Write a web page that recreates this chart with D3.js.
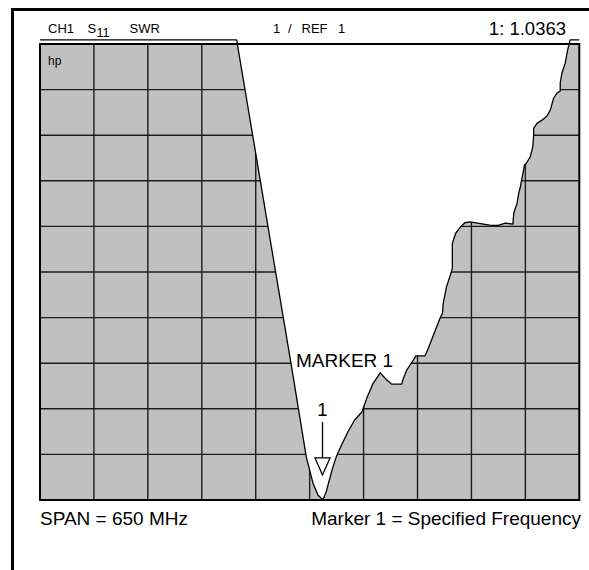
<!DOCTYPE html>
<html>
<head>
<meta charset="utf-8">
<script src="https://cdn.jsdelivr.net/npm/d3@7"></script>
<style>
  body { margin: 0; background: #fff; }
  svg text { font-family: "Liberation Sans", Arial, Helvetica, sans-serif; fill: #000; }
</style>
</head>
<body>
<div id="chart"></div>
<script>
// trace: frequency offset (MHz across the span) vs SWR (divisions)
const freqMHz = [0, 237, 303, 321, 329, 335, 341, 345, 348, 351, 353, 357, 359, 364, 371, 379, 388,
  394, 401, 410, 418, 424, 436, 438, 442, 450, 453, 464, 468, 482, 485, 486, 490, 494, 497, 497,
  501, 506, 512, 518, 542, 552, 561, 570, 571, 575, 577, 579, 584, 586, 591, 594, 595, 595, 599,
  605, 611, 615, 619, 623, 627, 627, 629, 633, 636, 639, 650];
const swrDiv = [10.09, 10.09, 2.94, 0.94, 0.37, 0.11, 0, 0.18, 0.39, 0.59, 0.72, 0.94, 1.03, 1.23,
  1.49, 1.75, 1.93, 2.24, 2.54, 2.79, 2.63, 2.54, 2.54, 2.67, 2.85, 3.07, 3.16, 3.16, 3.33, 3.98,
  4.09, 4.31, 4.68, 4.90, 5.08, 5.63, 5.85, 5.97, 6.08, 6.10, 6.03, 6.02, 6.07, 6.05, 6.29, 6.51,
  6.73, 6.87, 7.35, 7.38, 7.53, 7.75, 8.00, 8.15, 8.26, 8.33, 8.42, 8.55, 8.81, 8.92, 8.97, 9.14,
  9.36, 9.58, 9.87, 10.09, 10.09];

const spanMHz = 650;
const divisions = 10;
const markerFreq = 340.5;
const markerLevel = 0.55;

const headerLabels = ["CH1", "S", "11", "SWR", "1", "/", "REF", "1"];
const markerReadout = "1: 1.0363";
const footerLeft = "SPAN = 650 MHz";
const footerRight = "Marker 1 = Specified Frequency";

const W = 589, H = 570;
const svg = d3.select("#chart").append("svg").attr("width", W).attr("height", H);
const g = { left: 40, top: 44, right: 579.3, bottom: 500 };

const x = d3.scaleLinear().domain([0, spanMHz]).range([g.left, g.right]);
const y = d3.scaleLinear().domain([0, divisions]).range([g.bottom, g.top]);

const trace = freqMHz.map((f, i) => [f, swrDiv[i]]);

// outer frame (left + top)
svg.append("path")
  .attr("d", `M12.5,${H} V9.5 H${W}`)
  .attr("fill", "none").attr("stroke", "#000").attr("stroke-width", 3);

const defs = svg.append("defs");
defs.append("clipPath").attr("id", "gridClip")
  .append("rect").attr("x", g.left).attr("y", g.top)
  .attr("width", g.right - g.left).attr("height", g.bottom - g.top);

const area = d3.area().x(d => x(d[0])).y0(g.bottom).y1(d => y(d[1]));
defs.append("clipPath").attr("id", "areaClip")
  .append("path").attr("d", area(trace));

// gray fill below the trace
const inner = svg.append("g").attr("clip-path", "url(#gridClip)");
inner.append("path").attr("d", area(trace)).attr("fill", "#c0c0c0");

// graticule only shows through the filled part
const gl = inner.append("g").attr("clip-path", "url(#areaClip)")
  .attr("stroke", "#1c1c1c").attr("stroke-width", 1.4);
gl.selectAll("line.v").data(d3.range(1, divisions)).enter().append("line")
  .attr("x1", d => x(d * spanMHz / divisions)).attr("x2", d => x(d * spanMHz / divisions))
  .attr("y1", g.top).attr("y2", g.bottom);
gl.selectAll("line.h").data(d3.range(1, divisions)).enter().append("line")
  .attr("y1", d => y(d)).attr("y2", d => y(d))
  .attr("x1", g.left).attr("x2", g.right);

// graticule border
svg.append("rect")
  .attr("x", g.left).attr("y", g.top)
  .attr("width", g.right - g.left).attr("height", g.bottom - g.top)
  .attr("fill", "none").attr("stroke", "#000").attr("stroke-width", 2);

// trace
svg.append("path")
  .attr("d", d3.line().x(d => x(d[0])).y(d => y(d[1]))(trace))
  .attr("fill", "none").attr("stroke", "#000").attr("stroke-width", 1.3)
  .attr("stroke-linejoin", "round");

// header
const header = svg.append("g").style("font-size", "13px");
const hx = [48, 87.5, 96.5, 129.5, 273, 288, 301.5, 338];
headerLabels.forEach((t, i) => {
  header.append("text").attr("x", hx[i]).attr("y", i === 2 ? 36.5 : 32.5)
    .style("font-size", i === 2 ? "12.5px" : null).text(t);
});
svg.append("text").attr("x", 566).attr("y", 35).attr("text-anchor", "end")
  .style("font-size", "18.5px").text(markerReadout);

svg.append("text").attr("x", 48).attr("y", 65).style("font-size", "12px").text("hp");

// marker
const mx = x(markerFreq), my = y(markerLevel);
const mk = svg.append("g");
mk.append("path")
  .attr("d", `M${mx},${my} L${mx - 7.5},${my - 17} L${mx + 7.5},${my - 17} Z`)
  .attr("fill", "#fff").attr("stroke", "#000").attr("stroke-width", 1.3);
mk.append("line")
  .attr("x1", mx).attr("x2", mx).attr("y1", my - 17).attr("y2", my - 53)
  .attr("stroke", "#000").attr("stroke-width", 1.3);
mk.append("text").attr("x", mx).attr("y", my - 59).attr("text-anchor", "middle")
  .style("font-size", "18.5px").text("1");
svg.append("text").attr("x", 296).attr("y", 367).style("font-size", "19px").text("MARKER 1");

// footer
svg.append("text").attr("x", 40).attr("y", 525).style("font-size", "19px").text(footerLeft);
svg.append("text").attr("x", 581).attr("y", 525).attr("text-anchor", "end")
  .style("font-size", "19px").text(footerRight);
</script>
</body>
</html>
